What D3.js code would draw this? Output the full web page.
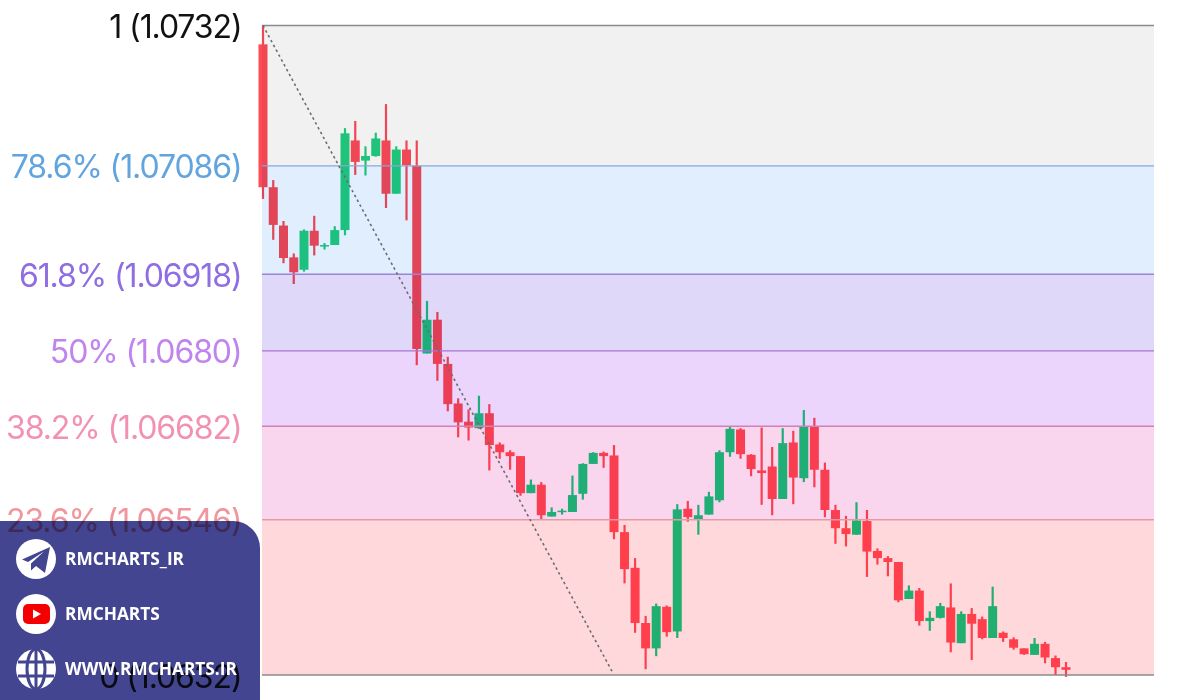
<!DOCTYPE html>
<html><head><meta charset="utf-8">
<script src="https://cdn.jsdelivr.net/npm/d3@7"></script>
<style>
html,body{margin:0;padding:0;background:#fff;overflow:hidden}
svg{display:block}
</style></head><body>
<svg id="c" width="1200" height="700"></svg>
<script>
// Fibonacci levels, top to bottom
const levelLabels=["1 (1.0732)","78.6% (1.07086)","61.8% (1.06918)","50% (1.0680)","38.2% (1.06682)","23.6% (1.06546)","0 (1.0632)"];
const levelPrices=[1.07320,1.07104,1.06937,1.06819,1.06703,1.06559,1.06320];
const levelTextColors=["#111111","#62a4de","#8f6de2","#c084ee","#f291b4","#f0969c","#222222"];
const levelLineColors=["#8a8a8a","#86a8d8","#9a84d8","#b070d4","#d480b4","#e49aa4","#8a8a8a"];
const bandColors=["#f1f1f1","#e1eefe","#dfd8f8","#ebd5fc","#f9d6ee","#ffd8dc"];
// Candle series
const opens=[1.07291,1.07071,1.07012,1.06963,1.06944,1.07004,1.06980,1.06982,1.07005,1.07143,1.07112,1.07119,1.07143,1.07061,1.07129,1.07104,1.06815,1.06867,1.06799,1.06738,1.06710,1.06700,1.06723,1.06675,1.06663,1.06657,1.06600,1.06613,1.06564,1.06571,1.06571,1.06599,1.06645,1.06662,1.06658,1.06540,1.06485,1.06400,1.06361,1.06425,1.06387,1.06576,1.06560,1.06567,1.06589,1.06663,1.06698,1.06659,1.06635,1.06641,1.06591,1.06678,1.06623,1.06702,1.06636,1.06574,1.06546,1.06536,1.06557,1.06511,1.06500,1.06494,1.06437,1.06450,1.06403,1.06408,1.06424,1.06369,1.06414,1.06406,1.06377,1.06385,1.06375,1.06361,1.06351,1.06368,1.06346,1.06332];
const highs=[1.07320,1.07082,1.07019,1.06969,1.07006,1.07027,1.06985,1.07011,1.07162,1.07173,1.07134,1.07155,1.07199,1.07134,1.07143,1.07143,1.06896,1.06879,1.06810,1.06746,1.06729,1.06750,1.06737,1.06678,1.06666,1.06657,1.06621,1.06617,1.06578,1.06576,1.06627,1.06646,1.06663,1.06664,1.06674,1.06551,1.06500,1.06411,1.06430,1.06427,1.06583,1.06588,1.06582,1.06602,1.06666,1.06702,1.06700,1.06660,1.06701,1.06671,1.06700,1.06696,1.06728,1.06716,1.06647,1.06582,1.06565,1.06586,1.06574,1.06515,1.06503,1.06494,1.06458,1.06454,1.06418,1.06431,1.06461,1.06418,1.06423,1.06410,1.06456,1.06387,1.06378,1.06361,1.06377,1.06371,1.06350,1.06340];
const lows=[1.07053,1.06990,1.06954,1.06922,1.06941,1.06966,1.06975,1.06982,1.06997,1.07090,1.07089,1.07118,1.07039,1.07061,1.07020,1.06797,1.06815,1.06773,1.06726,1.06686,1.06681,1.06699,1.06635,1.06653,1.06636,1.06596,1.06600,1.06559,1.06564,1.06567,1.06571,1.06590,1.06645,1.06639,1.06529,1.06461,1.06385,1.06329,1.06349,1.06379,1.06377,1.06556,1.06536,1.06567,1.06586,1.06656,1.06653,1.06626,1.06582,1.06566,1.06591,1.06583,1.06617,1.06609,1.06563,1.06522,1.06518,1.06536,1.06471,1.06490,1.06472,1.06432,1.06437,1.06396,1.06388,1.06407,1.06355,1.06369,1.06343,1.06375,1.06377,1.06371,1.06359,1.06351,1.06351,1.06338,1.06320,1.06317];
const closes=[1.07071,1.07013,1.06962,1.06940,1.07004,1.06981,1.06982,1.07005,1.07154,1.07110,1.07119,1.07146,1.07061,1.07129,1.07105,1.06822,1.06867,1.06799,1.06737,1.06709,1.06701,1.06723,1.06674,1.06663,1.06657,1.06600,1.06613,1.06566,1.06571,1.06573,1.06597,1.06645,1.06662,1.06657,1.06540,1.06483,1.06400,1.06361,1.06426,1.06386,1.06575,1.06563,1.06566,1.06595,1.06663,1.06699,1.06660,1.06637,1.06631,1.06591,1.06677,1.06624,1.06702,1.06636,1.06574,1.06546,1.06537,1.06558,1.06510,1.06500,1.06494,1.06435,1.06450,1.06403,1.06408,1.06426,1.06370,1.06414,1.06399,1.06377,1.06426,1.06377,1.06362,1.06352,1.06368,1.06347,1.06332,1.06328];
// Swing trend line: candle index and price at each end
const trendIndex=[0,33.8];
const trendPrice=[1.07320,1.06326];
// Panel content
const panelTexts=["RMCHARTS_IR","RMCHARTS","WWW.RMCHARTS.IR"];

const svg=d3.select("#c");
const y=d3.scaleLinear().domain([1.0632,1.0732]).range([675,25.5]);
const x=d3.scaleLinear().domain([0,16,34,56,77]).range([263,427,614,846,1066]);
const plotL=262,plotR=1154,bodyW=9,wickW=2.2;

// bands
svg.append("g").selectAll("rect").data(bandColors).join("rect")
 .attr("x",plotL).attr("width",plotR-plotL)
 .attr("y",(d,i)=>y(levelPrices[i]))
 .attr("height",(d,i)=>y(levelPrices[i+1])-y(levelPrices[i]))
 .attr("fill",d=>d);

// candles: wick and body in one blended group
const idx=d3.range(opens.length);
const up=i=>closes[i]>=opens[i];
const col=i=>up(i)?"#20cf80":"#ff4a58";
const cg=svg.append("g").style("mix-blend-mode","multiply");
cg.selectAll("line").data(idx).join("line")
 .attr("x1",i=>x(i)).attr("x2",i=>x(i))
 .attr("y1",i=>y(highs[i])).attr("y2",i=>y(lows[i]))
 .attr("stroke",col).attr("stroke-width",wickW);
cg.selectAll("rect").data(idx).join("rect")
 .attr("x",i=>x(i)-bodyW/2).attr("width",bodyW)
 .attr("y",i=>y(Math.max(opens[i],closes[i])))
 .attr("height",i=>Math.max(1.5,Math.abs(y(opens[i])-y(closes[i]))))
 .attr("fill",col);

// level lines
svg.append("g").selectAll("line").data(levelPrices).join("line")
 .attr("x1",plotL).attr("x2",plotR)
 .attr("y1",d=>y(d)).attr("y2",d=>y(d))
 .attr("stroke",(d,i)=>levelLineColors[i]).attr("stroke-width",1.3);

// trend line
svg.append("line")
 .attr("x1",x(trendIndex[0])).attr("y1",y(trendPrice[0]))
 .attr("x2",x(trendIndex[1])).attr("y2",y(trendPrice[1]))
 .attr("stroke","#6c6c6c").attr("stroke-width",1.6).attr("stroke-dasharray","2.5 3");

// labels
svg.append("g").selectAll("text").data(levelLabels).join("text")
 .attr("x",241.5).attr("y",(d,i)=>y(levelPrices[i])+12.5)
 .attr("text-anchor","end")
 .attr("font-family","Inter").attr("font-weight",400).attr("font-size",32).attr("letter-spacing",-1.1)
 .attr("fill",(d,i)=>levelTextColors[i]).text(d=>d);

// panel
svg.append("path").attr("d","M0 521H233A27 27 0 0 1 260 548V700H0Z")
 .attr("fill","#434590").style("mix-blend-mode","multiply");
const rows=[559,614,669];
const pg=svg.append("g");
pg.selectAll("circle").data(rows).join("circle")
 .attr("cx",36).attr("cy",d=>d).attr("r",20).attr("fill","#fff");
pg.selectAll("text").data(panelTexts).join("text")
 .attr("x",65).attr("y",(d,i)=>rows[i]+6)
 .attr("font-family","Open Sans").attr("font-weight",700).attr("font-size",17.3)
 .attr("fill","#fff").text(d=>d);
// telegram
pg.append("path").attr("d","M22 559.5L50 547L45 573L36 566L31 570.5L31 563.5L44 551.5L28 562Z").attr("fill","#434590");
// youtube
pg.append("rect").attr("x",23).attr("y",604).attr("width",27).attr("height",20).attr("rx",5).attr("fill","#f40000");
pg.append("path").attr("d","M33 609.5L41 614L33 618.5Z").attr("fill","#fff");
// globe
const gg=pg.append("g").attr("fill","none").attr("stroke","#434590").attr("stroke-width",3);
gg.append("ellipse").attr("cx",36).attr("cy",669).attr("rx",9).attr("ry",20);
gg.append("path").attr("d","M36 649V689M18 662H54M18 676H54");
</script>
</body></html>
